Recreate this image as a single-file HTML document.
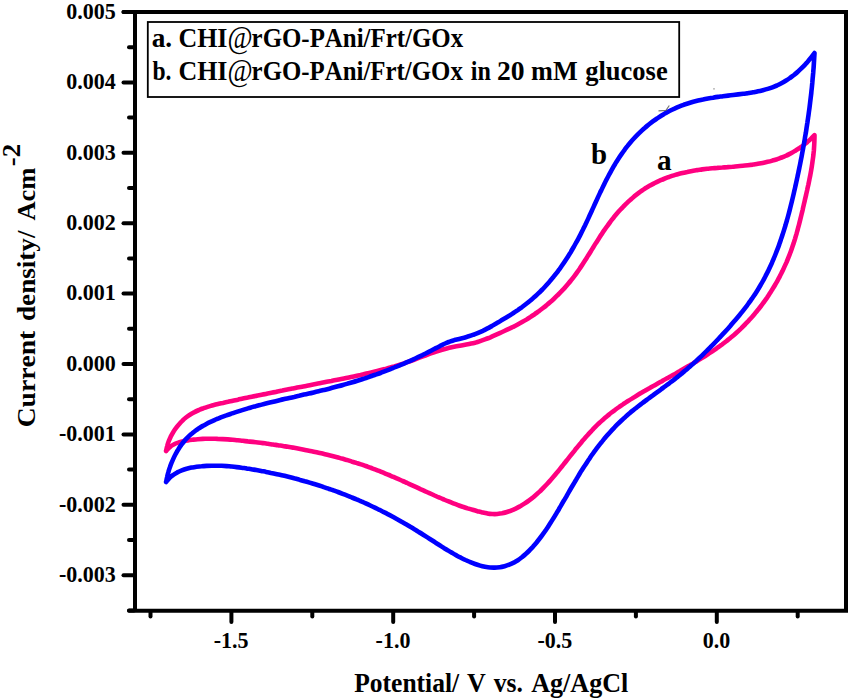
<!DOCTYPE html>
<html><head><meta charset="utf-8"><style>
html,body{margin:0;padding:0;background:#fff;}
svg{display:block;}
text{font-family:"Liberation Serif",serif;font-weight:bold;fill:#000;font-kerning:none;}
</style></head><body>
<svg width="850" height="700" viewBox="0 0 850 700">
<rect width="850" height="700" fill="#fff"/>
<g>
<g fill="none" stroke-linejoin="round" stroke-linecap="round" stroke-width="4.6">
<path stroke="#ff0080" d="M166.1 451.0C166.3 450.2 166.7 447.7 167.2 446.1C167.6 444.5 168.1 442.9 168.7 441.3C169.3 439.8 170.0 438.2 170.7 436.7C171.5 435.2 172.3 433.7 173.1 432.3C174.0 430.8 174.9 429.4 175.9 428.1C176.9 426.7 178.0 425.4 179.1 424.2C180.2 422.9 181.3 421.7 182.5 420.6C183.7 419.4 185.0 418.3 186.3 417.3C187.6 416.3 188.9 415.4 190.3 414.5C191.7 413.6 193.1 412.8 194.5 412.1C196.0 411.3 197.5 410.6 199.0 410.0C200.5 409.3 202.0 408.7 203.5 408.2C205.1 407.6 206.7 407.1 208.3 406.6C209.9 406.1 211.5 405.7 213.1 405.2C214.7 404.8 216.4 404.4 218.0 404.0C219.7 403.6 221.3 403.2 223.0 402.9C224.6 402.5 226.3 402.1 228.0 401.8C229.6 401.4 231.3 401.1 232.9 400.7C234.6 400.4 236.2 400.0 237.9 399.7C239.5 399.3 241.2 399.0 242.9 398.6C244.5 398.3 246.2 397.9 247.8 397.6C249.5 397.2 251.1 396.9 252.8 396.5C254.4 396.2 256.1 395.9 257.7 395.5C259.4 395.2 261.0 394.9 262.7 394.5C264.3 394.2 266.0 393.9 267.6 393.5C269.3 393.2 270.9 392.9 272.6 392.5C274.2 392.2 275.9 391.9 277.5 391.5C279.2 391.2 280.8 390.9 282.4 390.6C284.1 390.2 285.7 389.9 287.4 389.6C289.0 389.3 290.7 388.9 292.3 388.6C293.9 388.3 295.6 388.0 297.2 387.6C298.9 387.3 300.5 387.0 302.1 386.7C303.8 386.4 305.4 386.0 307.0 385.7C308.7 385.4 310.3 385.1 312.0 384.7C313.6 384.4 315.2 384.1 316.8 383.8C318.5 383.5 320.1 383.1 321.7 382.8C323.4 382.5 325.0 382.2 326.6 381.8C328.3 381.5 329.9 381.2 331.5 380.9C333.1 380.5 334.8 380.2 336.4 379.9C338.0 379.6 339.6 379.2 341.2 378.9C342.9 378.6 344.5 378.3 346.1 377.9C347.7 377.6 349.3 377.3 351.0 376.9C352.6 376.6 354.2 376.3 355.8 375.9C357.4 375.6 359.0 375.2 360.6 374.9C362.3 374.5 363.9 374.2 365.5 373.8C367.1 373.4 368.7 373.1 370.3 372.7C371.9 372.3 373.5 371.9 375.1 371.5C376.7 371.1 378.3 370.7 379.9 370.3C381.5 369.9 383.1 369.5 384.7 369.1C386.3 368.6 387.9 368.2 389.5 367.7C391.1 367.3 392.7 366.8 394.3 366.4C395.9 365.9 397.5 365.4 399.1 364.9C400.7 364.4 402.3 363.9 403.9 363.4C405.5 362.8 407.1 362.3 408.6 361.7C410.2 361.2 411.8 360.6 413.4 360.0C415.0 359.4 416.6 358.8 418.2 358.2C419.7 357.6 421.3 357.0 422.9 356.4C424.5 355.8 426.1 355.2 427.7 354.6C429.3 354.0 430.8 353.4 432.4 352.8C434.0 352.3 435.6 351.7 437.2 351.2C438.8 350.7 440.4 350.2 442.0 349.7C443.6 349.2 445.2 348.8 446.8 348.4C448.4 348.0 450.1 347.6 451.7 347.2C453.3 346.9 454.9 346.6 456.5 346.3C458.2 346.0 459.8 345.7 461.4 345.4C463.0 345.1 464.7 344.8 466.3 344.5C467.9 344.2 469.5 343.9 471.2 343.5C472.8 343.2 474.4 342.8 476.0 342.4C477.6 341.9 479.2 341.5 480.8 340.9C482.4 340.4 484.0 339.8 485.6 339.2C487.2 338.6 488.8 337.9 490.4 337.3C491.9 336.6 493.5 335.9 495.1 335.2C496.6 334.5 498.2 333.8 499.7 333.1C501.3 332.4 502.8 331.7 504.3 331.0C505.8 330.3 507.4 329.6 508.9 328.9C510.4 328.2 511.9 327.5 513.3 326.8C514.8 326.1 516.3 325.3 517.7 324.5C519.2 323.7 520.7 322.9 522.1 322.1C523.5 321.3 524.9 320.5 526.4 319.6C527.8 318.7 529.2 317.8 530.6 316.9C531.9 316.0 533.3 315.1 534.7 314.2C536.0 313.2 537.4 312.3 538.7 311.3C540.1 310.3 541.4 309.3 542.7 308.3C544.0 307.3 545.3 306.3 546.5 305.2C547.8 304.2 549.1 303.1 550.3 302.0C551.6 300.9 552.8 299.8 554.0 298.7C555.2 297.6 556.4 296.4 557.6 295.2C558.8 294.1 559.9 292.9 561.1 291.7C562.2 290.5 563.4 289.3 564.5 288.1C565.6 286.9 566.7 285.6 567.8 284.3C568.8 283.1 569.9 281.8 570.9 280.5C572.0 279.2 573.0 277.9 574.0 276.6C575.0 275.3 576.0 273.9 576.9 272.6C577.9 271.2 578.9 269.8 579.8 268.5C580.7 267.1 581.7 265.7 582.6 264.3C583.5 262.9 584.4 261.5 585.3 260.1C586.2 258.7 587.1 257.2 588.0 255.8C588.9 254.4 589.8 253.0 590.7 251.5C591.5 250.1 592.4 248.7 593.3 247.2C594.2 245.8 595.1 244.4 596.0 242.9C596.9 241.5 597.8 240.1 598.7 238.7C599.6 237.3 600.5 235.8 601.5 234.4C602.4 233.0 603.3 231.6 604.3 230.2C605.2 228.8 606.2 227.4 607.2 226.1C608.2 224.7 609.2 223.3 610.2 222.0C611.2 220.6 612.2 219.3 613.3 218.0C614.3 216.7 615.4 215.4 616.5 214.1C617.6 212.8 618.7 211.5 619.8 210.3C621.0 209.0 622.1 207.8 623.3 206.6C624.4 205.4 625.6 204.2 626.8 203.1C628.0 201.9 629.2 200.8 630.5 199.7C631.7 198.6 632.9 197.5 634.2 196.4C635.5 195.4 636.8 194.4 638.1 193.4C639.4 192.4 640.7 191.4 642.1 190.5C643.5 189.6 644.8 188.7 646.2 187.8C647.6 187.0 649.0 186.1 650.4 185.3C651.9 184.6 653.3 183.8 654.8 183.0C656.2 182.3 657.7 181.6 659.2 180.9C660.7 180.3 662.2 179.6 663.7 179.0C665.2 178.4 666.7 177.8 668.3 177.2C669.8 176.7 671.4 176.1 672.9 175.6C674.5 175.1 676.1 174.7 677.7 174.2C679.3 173.8 680.9 173.4 682.5 173.0C684.1 172.6 685.7 172.2 687.3 171.9C689.0 171.5 690.6 171.2 692.3 170.9C693.9 170.6 695.6 170.4 697.2 170.1C698.9 169.9 700.5 169.6 702.2 169.4C703.9 169.2 705.6 169.0 707.2 168.8C708.9 168.6 710.6 168.5 712.3 168.3C714.0 168.2 715.7 168.0 717.4 167.9C719.0 167.7 720.7 167.6 722.4 167.5C724.1 167.3 725.8 167.2 727.5 167.1C729.2 166.9 730.9 166.8 732.6 166.7C734.3 166.5 736.0 166.4 737.7 166.2C739.4 166.1 741.1 165.9 742.8 165.7C744.4 165.6 746.1 165.4 747.8 165.2C749.5 165.0 751.2 164.8 752.8 164.6C754.5 164.3 756.2 164.1 757.8 163.8C759.5 163.5 761.1 163.2 762.7 162.9C764.4 162.6 766.0 162.2 767.6 161.8C769.2 161.5 770.8 161.1 772.4 160.6C774.0 160.2 775.6 159.7 777.1 159.2C778.7 158.6 780.2 158.1 781.8 157.5C783.3 156.9 784.8 156.2 786.3 155.6C787.8 154.9 789.3 154.1 790.7 153.4C792.2 152.6 793.6 151.8 795.0 150.9C796.4 150.1 797.8 149.2 799.2 148.3C800.6 147.3 801.9 146.3 803.3 145.3C804.6 144.3 805.9 143.3 807.2 142.2C808.4 141.1 809.7 140.0 810.9 138.8C812.1 137.6 813.9 135.8 814.5 135.2C814.5 136.0 814.5 138.5 814.4 140.2C814.4 141.8 814.3 143.5 814.2 145.2C814.1 146.8 814.0 148.5 813.9 150.2C813.7 151.8 813.5 153.5 813.4 155.1C813.2 156.8 813.0 158.5 812.7 160.1C812.5 161.8 812.3 163.5 812.0 165.1C811.8 166.8 811.5 168.4 811.2 170.1C810.9 171.8 810.6 173.4 810.3 175.1C810.0 176.7 809.6 178.4 809.3 180.1C809.0 181.7 808.6 183.4 808.3 185.0C807.9 186.7 807.5 188.3 807.2 190.0C806.8 191.6 806.4 193.3 806.1 194.9C805.7 196.6 805.3 198.2 804.9 199.9C804.6 201.5 804.2 203.1 803.8 204.8C803.4 206.4 803.0 208.0 802.7 209.7C802.3 211.3 801.9 212.9 801.5 214.5C801.1 216.2 800.7 217.8 800.3 219.4C799.9 221.0 799.5 222.6 799.1 224.3C798.7 225.9 798.2 227.5 797.8 229.1C797.4 230.7 796.9 232.3 796.5 233.9C796.0 235.5 795.5 237.1 795.1 238.6C794.6 240.2 794.1 241.8 793.6 243.4C793.0 245.0 792.5 246.5 792.0 248.1C791.4 249.7 790.9 251.2 790.3 252.8C789.7 254.3 789.1 255.9 788.5 257.4C787.9 259.0 787.2 260.5 786.6 262.1C785.9 263.6 785.2 265.1 784.5 266.6C783.8 268.2 783.1 269.7 782.4 271.2C781.6 272.7 780.9 274.2 780.1 275.7C779.4 277.2 778.6 278.6 777.8 280.1C777.0 281.6 776.1 283.0 775.3 284.5C774.5 285.9 773.6 287.4 772.7 288.8C771.8 290.2 771.0 291.7 770.0 293.1C769.1 294.5 768.2 295.9 767.3 297.3C766.3 298.7 765.4 300.0 764.4 301.4C763.4 302.8 762.4 304.1 761.4 305.5C760.4 306.8 759.4 308.1 758.3 309.4C757.3 310.8 756.2 312.1 755.1 313.3C754.1 314.6 753.0 315.9 751.8 317.2C750.7 318.4 749.6 319.7 748.5 320.9C747.3 322.1 746.2 323.3 745.0 324.5C743.8 325.7 742.6 326.9 741.4 328.1C740.2 329.2 739.0 330.4 737.8 331.5C736.5 332.6 735.3 333.8 734.0 334.9C732.8 335.9 731.5 337.0 730.2 338.1C728.9 339.1 727.6 340.2 726.3 341.2C724.9 342.3 723.6 343.3 722.3 344.3C720.9 345.3 719.6 346.3 718.2 347.2C716.8 348.2 715.5 349.2 714.1 350.1C712.7 351.1 711.3 352.0 709.9 352.9C708.5 353.8 707.1 354.8 705.7 355.7C704.3 356.6 702.8 357.5 701.4 358.3C700.0 359.2 698.6 360.1 697.1 361.0C695.7 361.8 694.3 362.7 692.8 363.6C691.4 364.4 690.0 365.3 688.5 366.1C687.1 366.9 685.6 367.8 684.2 368.6C682.8 369.4 681.3 370.3 679.9 371.1C678.4 371.9 677.0 372.7 675.5 373.6C674.1 374.4 672.6 375.2 671.2 376.0C669.7 376.8 668.3 377.6 666.8 378.4C665.3 379.3 663.9 380.1 662.4 380.9C661.0 381.7 659.5 382.5 658.1 383.3C656.6 384.2 655.1 385.0 653.7 385.8C652.2 386.6 650.7 387.5 649.3 388.3C647.8 389.1 646.4 389.9 644.9 390.8C643.4 391.6 642.0 392.5 640.5 393.3C639.1 394.2 637.6 395.1 636.2 395.9C634.7 396.8 633.3 397.7 631.9 398.6C630.4 399.5 629.0 400.4 627.6 401.3C626.2 402.2 624.8 403.1 623.4 404.0C622.0 405.0 620.6 405.9 619.3 406.9C617.9 407.8 616.5 408.8 615.2 409.8C613.8 410.8 612.5 411.8 611.2 412.8C609.9 413.8 608.6 414.9 607.3 415.9C606.0 417.0 604.8 418.1 603.5 419.2C602.3 420.2 601.1 421.4 599.8 422.5C598.6 423.6 597.5 424.8 596.3 425.9C595.1 427.1 594.0 428.3 592.8 429.5C591.7 430.7 590.5 431.9 589.4 433.1C588.3 434.3 587.2 435.6 586.1 436.8C585.0 438.1 583.9 439.3 582.8 440.6C581.7 441.9 580.7 443.2 579.6 444.4C578.5 445.7 577.5 447.0 576.4 448.3C575.3 449.6 574.3 451.0 573.2 452.3C572.2 453.6 571.1 454.9 570.1 456.2C569.0 457.6 568.0 458.9 566.9 460.2C565.9 461.6 564.8 462.9 563.8 464.2C562.7 465.6 561.6 466.9 560.6 468.2C559.5 469.6 558.4 470.9 557.3 472.2C556.3 473.5 555.2 474.8 554.1 476.1C553.0 477.4 551.9 478.7 550.7 480.0C549.6 481.3 548.5 482.5 547.3 483.8C546.2 485.0 545.0 486.2 543.8 487.4C542.7 488.6 541.5 489.8 540.3 491.0C539.0 492.1 537.8 493.2 536.6 494.3C535.3 495.4 534.1 496.5 532.8 497.6C531.5 498.6 530.2 499.6 528.8 500.6C527.5 501.6 526.2 502.5 524.8 503.4C523.4 504.3 522.0 505.2 520.6 506.0C519.1 506.8 517.7 507.6 516.2 508.3C514.7 509.0 513.2 509.7 511.7 510.3C510.1 511.0 508.5 511.5 507.0 512.0C505.4 512.5 503.8 512.9 502.1 513.3C500.5 513.6 498.9 513.8 497.2 514.0C495.6 514.1 493.9 514.1 492.3 514.0C490.6 513.9 488.9 513.7 487.3 513.4C485.6 513.2 484.0 512.8 482.3 512.4C480.7 512.1 479.0 511.6 477.4 511.2C475.7 510.8 474.1 510.3 472.5 509.8C470.8 509.4 469.2 508.9 467.6 508.4C466.0 507.8 464.4 507.3 462.8 506.8C461.2 506.2 459.6 505.7 458.0 505.1C456.4 504.5 454.9 503.9 453.3 503.3C451.7 502.7 450.1 502.1 448.6 501.4C447.0 500.8 445.5 500.2 443.9 499.5C442.4 498.9 440.8 498.2 439.3 497.5C437.7 496.9 436.2 496.2 434.6 495.5C433.1 494.8 431.6 494.1 430.0 493.4C428.5 492.7 427.0 492.0 425.4 491.3C423.9 490.6 422.4 489.9 420.9 489.3C419.3 488.6 417.8 487.9 416.3 487.2C414.8 486.5 413.2 485.8 411.7 485.1C410.2 484.4 408.7 483.7 407.2 483.0C405.6 482.3 404.1 481.6 402.6 481.0C401.1 480.3 399.6 479.6 398.0 478.9C396.5 478.3 395.0 477.6 393.5 476.9C391.9 476.3 390.4 475.6 388.9 475.0C387.4 474.4 385.8 473.7 384.3 473.1C382.8 472.5 381.2 471.8 379.7 471.2C378.1 470.6 376.6 470.0 375.0 469.4C373.5 468.8 371.9 468.3 370.4 467.7C368.8 467.1 367.3 466.6 365.7 466.0C364.1 465.5 362.6 464.9 361.0 464.4C359.4 463.9 357.8 463.4 356.3 462.9C354.7 462.3 353.1 461.8 351.5 461.4C349.9 460.9 348.3 460.4 346.7 459.9C345.1 459.5 343.5 459.0 341.9 458.6C340.3 458.1 338.7 457.7 337.1 457.2C335.5 456.8 333.9 456.4 332.3 456.0C330.6 455.6 329.0 455.2 327.4 454.8C325.8 454.4 324.1 454.0 322.5 453.6C320.9 453.2 319.3 452.9 317.6 452.5C316.0 452.1 314.3 451.8 312.7 451.4C311.1 451.1 309.4 450.7 307.8 450.4C306.1 450.1 304.5 449.8 302.8 449.4C301.2 449.1 299.5 448.8 297.9 448.5C296.2 448.2 294.6 447.9 292.9 447.6C291.3 447.4 289.6 447.1 287.9 446.8C286.3 446.5 284.6 446.3 282.9 446.0C281.3 445.7 279.6 445.5 277.9 445.2C276.3 445.0 274.6 444.7 272.9 444.5C271.3 444.3 269.6 444.0 267.9 443.8C266.3 443.6 264.6 443.4 262.9 443.1C261.2 442.9 259.6 442.7 257.9 442.5C256.2 442.3 254.5 442.1 252.9 441.9C251.2 441.7 249.5 441.5 247.8 441.4C246.1 441.2 244.5 441.0 242.8 440.8C241.1 440.6 239.4 440.5 237.7 440.3C236.1 440.1 234.4 440.0 232.7 439.8C231.0 439.7 229.4 439.5 227.7 439.4C226.0 439.3 224.3 439.2 222.7 439.1C221.0 439.0 219.3 438.9 217.6 438.9C216.0 438.8 214.3 438.8 212.6 438.7C211.0 438.7 209.3 438.7 207.6 438.7C206.0 438.8 204.3 438.8 202.7 438.9C201.0 439.0 199.3 439.1 197.7 439.2C196.0 439.3 194.4 439.5 192.7 439.7C191.1 439.9 189.4 440.1 187.8 440.4C186.2 440.6 184.5 440.9 182.9 441.3C181.3 441.6 179.7 442.0 178.2 442.6C176.7 443.1 175.1 443.7 173.7 444.5C172.3 445.2 170.9 446.1 169.7 447.2C168.4 448.2 166.7 450.4 166.1 451.0"/>
<path stroke="#0000ff" d="M166.1 482.0C166.3 481.2 166.7 478.8 167.1 477.2C167.4 475.6 167.8 474.0 168.3 472.4C168.7 470.7 169.2 469.1 169.8 467.5C170.3 465.9 170.9 464.3 171.5 462.8C172.2 461.2 172.9 459.6 173.6 458.1C174.3 456.6 175.1 455.0 175.9 453.5C176.7 452.1 177.5 450.6 178.4 449.2C179.3 447.7 180.2 446.3 181.2 445.0C182.2 443.6 183.2 442.3 184.3 441.1C185.4 439.8 186.5 438.6 187.7 437.4C188.8 436.3 190.0 435.2 191.3 434.1C192.5 433.0 193.8 432.0 195.1 431.0C196.4 430.0 197.8 429.1 199.1 428.2C200.5 427.3 201.9 426.4 203.4 425.6C204.8 424.8 206.3 424.0 207.7 423.2C209.2 422.5 210.7 421.8 212.2 421.1C213.8 420.3 215.3 419.7 216.8 419.0C218.4 418.4 220.0 417.7 221.5 417.1C223.1 416.5 224.7 415.9 226.3 415.4C227.9 414.8 229.5 414.2 231.1 413.7C232.7 413.1 234.3 412.6 235.9 412.1C237.5 411.6 239.1 411.1 240.7 410.6C242.3 410.1 243.9 409.6 245.5 409.1C247.1 408.6 248.7 408.2 250.3 407.7C251.9 407.2 253.6 406.8 255.2 406.4C256.8 405.9 258.4 405.5 260.0 405.1C261.6 404.6 263.3 404.2 264.9 403.8C266.5 403.4 268.1 403.0 269.8 402.6C271.4 402.2 273.0 401.8 274.6 401.4C276.3 401.0 277.9 400.6 279.5 400.2C281.1 399.9 282.8 399.5 284.4 399.1C286.0 398.7 287.6 398.4 289.3 398.0C290.9 397.6 292.5 397.2 294.2 396.9C295.8 396.5 297.4 396.1 299.0 395.8C300.7 395.4 302.3 395.0 303.9 394.6C305.6 394.3 307.2 393.9 308.8 393.5C310.4 393.2 312.1 392.8 313.7 392.4C315.3 392.0 317.0 391.6 318.6 391.2C320.2 390.9 321.8 390.5 323.5 390.1C325.1 389.7 326.7 389.3 328.3 388.9C329.9 388.5 331.6 388.0 333.2 387.6C334.8 387.2 336.4 386.8 338.0 386.3C339.7 385.9 341.3 385.5 342.9 385.0C344.5 384.6 346.1 384.1 347.7 383.6C349.3 383.2 350.9 382.7 352.5 382.2C354.2 381.7 355.8 381.2 357.4 380.7C359.0 380.2 360.6 379.7 362.2 379.2C363.7 378.7 365.3 378.2 366.9 377.7C368.5 377.1 370.1 376.6 371.7 376.0C373.3 375.5 374.9 374.9 376.4 374.4C378.0 373.8 379.6 373.2 381.1 372.7C382.7 372.1 384.3 371.5 385.8 370.9C387.4 370.3 389.0 369.7 390.5 369.1C392.1 368.5 393.6 367.8 395.2 367.2C396.7 366.6 398.2 366.0 399.8 365.3C401.3 364.7 402.9 364.0 404.4 363.4C405.9 362.7 407.4 362.0 408.9 361.4C410.5 360.7 412.0 360.0 413.5 359.3C415.0 358.6 416.5 357.9 418.0 357.2C419.5 356.5 421.0 355.8 422.5 355.1C423.9 354.3 425.4 353.6 426.9 352.8C428.4 352.1 429.9 351.3 431.4 350.5C432.9 349.7 434.4 348.9 435.9 348.1C437.5 347.3 439.0 346.5 440.5 345.7C442.0 345.0 443.5 344.2 445.1 343.5C446.6 342.8 448.2 342.2 449.7 341.6C451.3 341.1 452.9 340.6 454.4 340.1C456.0 339.7 457.6 339.3 459.2 338.9C460.8 338.5 462.4 338.1 464.0 337.7C465.5 337.2 467.1 336.8 468.7 336.3C470.3 335.8 471.9 335.3 473.5 334.7C475.1 334.2 476.6 333.6 478.2 332.9C479.8 332.2 481.3 331.5 482.9 330.8C484.4 330.0 486.0 329.2 487.5 328.4C489.1 327.6 490.6 326.7 492.1 325.9C493.6 325.0 495.1 324.1 496.6 323.2C498.1 322.3 499.6 321.5 501.0 320.6C502.5 319.7 503.9 318.9 505.4 318.0C506.8 317.2 508.2 316.3 509.6 315.5C511.0 314.6 512.4 313.7 513.8 312.8C515.2 311.9 516.5 311.0 517.9 310.1C519.2 309.2 520.5 308.2 521.8 307.3C523.1 306.3 524.4 305.3 525.7 304.3C527.0 303.3 528.3 302.3 529.5 301.3C530.8 300.3 532.0 299.2 533.2 298.1C534.4 297.1 535.7 296.0 536.8 294.9C538.0 293.8 539.2 292.6 540.4 291.5C541.5 290.3 542.7 289.2 543.8 288.0C544.9 286.8 546.1 285.6 547.2 284.3C548.3 283.1 549.3 281.9 550.4 280.6C551.5 279.3 552.5 278.0 553.6 276.7C554.6 275.4 555.7 274.1 556.7 272.8C557.7 271.5 558.7 270.1 559.7 268.8C560.7 267.4 561.6 266.0 562.6 264.6C563.6 263.3 564.5 261.9 565.4 260.5C566.4 259.0 567.3 257.6 568.2 256.2C569.1 254.8 570.0 253.3 570.9 251.9C571.7 250.4 572.6 248.9 573.4 247.5C574.3 246.0 575.1 244.5 575.9 243.0C576.8 241.6 577.6 240.1 578.4 238.6C579.2 237.1 579.9 235.6 580.7 234.1C581.5 232.6 582.2 231.0 583.0 229.5C583.7 228.0 584.5 226.5 585.2 225.0C585.9 223.4 586.7 221.9 587.4 220.4C588.1 218.9 588.8 217.3 589.5 215.8C590.2 214.3 590.9 212.7 591.6 211.2C592.3 209.7 593.0 208.1 593.7 206.6C594.4 205.1 595.1 203.5 595.8 202.0C596.5 200.5 597.2 199.0 597.9 197.4C598.6 195.9 599.3 194.4 600.0 192.9C600.7 191.4 601.5 189.9 602.2 188.4C602.9 186.9 603.6 185.4 604.4 183.9C605.1 182.4 605.8 180.9 606.6 179.4C607.4 177.9 608.1 176.5 608.9 175.0C609.7 173.5 610.5 172.1 611.3 170.6C612.1 169.2 612.9 167.8 613.7 166.3C614.6 164.9 615.4 163.5 616.3 162.1C617.1 160.7 618.0 159.3 618.9 157.9C619.8 156.5 620.7 155.2 621.7 153.8C622.6 152.5 623.6 151.1 624.6 149.8C625.6 148.5 626.6 147.1 627.6 145.9C628.6 144.6 629.7 143.3 630.8 142.0C631.9 140.7 633.0 139.5 634.1 138.3C635.2 137.0 636.4 135.8 637.6 134.6C638.8 133.4 640.0 132.3 641.2 131.1C642.4 130.0 643.7 128.8 645.0 127.7C646.2 126.6 647.5 125.6 648.8 124.5C650.2 123.4 651.5 122.4 652.8 121.4C654.2 120.4 655.6 119.4 657.0 118.5C658.4 117.5 659.8 116.6 661.2 115.7C662.6 114.8 664.1 114.0 665.5 113.1C667.0 112.3 668.5 111.5 669.9 110.8C671.4 110.0 672.9 109.3 674.5 108.6C676.0 107.9 677.5 107.2 679.0 106.6C680.6 106.0 682.1 105.4 683.7 104.8C685.3 104.3 686.9 103.8 688.5 103.3C690.0 102.8 691.6 102.3 693.3 101.8C694.9 101.4 696.5 101.0 698.1 100.6C699.7 100.2 701.4 99.8 703.0 99.5C704.7 99.1 706.3 98.8 708.0 98.5C709.6 98.2 711.3 97.9 713.0 97.7C714.6 97.4 716.3 97.1 718.0 96.9C719.7 96.7 721.3 96.4 723.0 96.2C724.7 96.0 726.4 95.8 728.1 95.6C729.8 95.4 731.5 95.2 733.2 95.0C734.8 94.8 736.5 94.6 738.2 94.4C739.9 94.2 741.6 94.0 743.2 93.8C744.9 93.6 746.6 93.3 748.2 93.1C749.9 92.8 751.6 92.6 753.2 92.3C754.8 92.0 756.5 91.7 758.1 91.3C759.7 91.0 761.3 90.6 762.9 90.2C764.5 89.8 766.1 89.4 767.7 88.9C769.3 88.4 770.8 87.9 772.4 87.3C773.9 86.7 775.4 86.1 776.9 85.5C778.4 84.8 779.9 84.1 781.4 83.3C782.9 82.5 784.3 81.7 785.7 80.8C787.1 79.9 788.5 79.0 789.9 78.0C791.3 77.1 792.6 76.0 794.0 75.0C795.3 73.9 796.6 72.8 797.8 71.7C799.1 70.6 800.4 69.4 801.6 68.2C802.8 67.0 804.0 65.8 805.1 64.6C806.2 63.3 807.4 62.1 808.4 60.8C809.5 59.5 810.6 58.2 811.6 56.9C812.6 55.6 814.0 53.7 814.5 53.0C814.5 53.8 814.3 56.3 814.2 58.0C814.1 59.7 814.0 61.3 813.9 63.0C813.8 64.6 813.7 66.3 813.6 68.0C813.4 69.6 813.3 71.3 813.2 73.0C813.0 74.6 812.9 76.3 812.7 77.9C812.6 79.6 812.4 81.3 812.3 82.9C812.1 84.6 812.0 86.2 811.8 87.9C811.6 89.5 811.4 91.2 811.3 92.9C811.1 94.5 810.9 96.2 810.7 97.8C810.5 99.5 810.3 101.1 810.1 102.8C809.9 104.4 809.7 106.1 809.5 107.8C809.3 109.4 809.0 111.1 808.8 112.7C808.6 114.4 808.4 116.0 808.1 117.7C807.9 119.3 807.6 121.0 807.4 122.6C807.1 124.3 806.9 125.9 806.6 127.6C806.4 129.2 806.1 130.9 805.9 132.5C805.6 134.1 805.3 135.8 805.0 137.4C804.8 139.1 804.5 140.7 804.2 142.4C803.9 144.0 803.6 145.7 803.3 147.3C803.0 148.9 802.7 150.6 802.4 152.2C802.1 153.9 801.8 155.5 801.5 157.1C801.2 158.8 800.8 160.4 800.5 162.1C800.2 163.7 799.9 165.3 799.5 167.0C799.2 168.6 798.9 170.2 798.5 171.9C798.2 173.5 797.8 175.1 797.5 176.8C797.1 178.4 796.8 180.0 796.4 181.7C796.1 183.3 795.7 184.9 795.3 186.6C795.0 188.2 794.6 189.8 794.2 191.4C793.9 193.1 793.5 194.7 793.1 196.3C792.7 197.9 792.3 199.6 791.9 201.2C791.5 202.8 791.1 204.4 790.7 206.0C790.3 207.7 789.9 209.3 789.5 210.9C789.1 212.5 788.6 214.1 788.2 215.7C787.8 217.3 787.3 218.9 786.9 220.5C786.4 222.1 785.9 223.7 785.5 225.3C785.0 226.9 784.5 228.5 784.0 230.1C783.5 231.7 783.0 233.3 782.5 234.8C782.0 236.4 781.5 238.0 780.9 239.5C780.4 241.1 779.9 242.7 779.3 244.2C778.8 245.8 778.2 247.4 777.6 248.9C777.0 250.4 776.4 252.0 775.8 253.5C775.2 255.1 774.6 256.6 773.9 258.1C773.3 259.6 772.6 261.2 772.0 262.7C771.3 264.2 770.6 265.7 769.9 267.2C769.2 268.7 768.5 270.2 767.8 271.7C767.0 273.2 766.3 274.6 765.5 276.1C764.8 277.6 764.0 279.0 763.2 280.5C762.4 282.0 761.6 283.4 760.7 284.8C759.9 286.3 759.0 287.7 758.2 289.1C757.3 290.6 756.4 292.0 755.5 293.4C754.6 294.8 753.6 296.2 752.7 297.6C751.7 298.9 750.8 300.3 749.8 301.7C748.8 303.1 747.8 304.4 746.8 305.8C745.8 307.1 744.7 308.5 743.7 309.8C742.7 311.1 741.6 312.5 740.5 313.8C739.5 315.1 738.4 316.4 737.3 317.7C736.2 319.0 735.1 320.3 734.0 321.6C732.9 322.9 731.8 324.2 730.7 325.4C729.6 326.7 728.5 328.0 727.4 329.2C726.2 330.5 725.1 331.7 724.0 332.9C722.8 334.2 721.7 335.4 720.5 336.6C719.4 337.8 718.3 339.1 717.1 340.3C716.0 341.5 714.8 342.7 713.7 343.8C712.5 345.0 711.3 346.2 710.2 347.4C709.0 348.6 707.9 349.7 706.7 350.9C705.5 352.0 704.3 353.2 703.2 354.3C702.0 355.5 700.8 356.6 699.6 357.7C698.4 358.8 697.2 360.0 696.0 361.1C694.8 362.2 693.6 363.3 692.3 364.4C691.1 365.5 689.9 366.5 688.7 367.6C687.4 368.7 686.2 369.8 684.9 370.8C683.7 371.9 682.4 372.9 681.1 374.0C679.9 375.0 678.6 376.1 677.3 377.1C676.0 378.1 674.7 379.2 673.4 380.2C672.1 381.2 670.7 382.2 669.4 383.2C668.1 384.2 666.7 385.2 665.4 386.2C664.0 387.2 662.7 388.2 661.3 389.2C660.0 390.2 658.6 391.2 657.3 392.1C655.9 393.1 654.5 394.1 653.2 395.1C651.8 396.1 650.4 397.1 649.1 398.1C647.7 399.1 646.4 400.1 645.0 401.1C643.7 402.1 642.3 403.1 641.0 404.1C639.6 405.2 638.3 406.2 637.0 407.2C635.7 408.3 634.3 409.3 633.0 410.4C631.7 411.4 630.4 412.5 629.2 413.6C627.9 414.7 626.6 415.8 625.4 416.9C624.1 418.0 622.9 419.1 621.7 420.3C620.5 421.4 619.3 422.6 618.1 423.7C616.9 424.9 615.7 426.1 614.6 427.3C613.4 428.5 612.3 429.7 611.2 430.9C610.1 432.2 609.0 433.4 607.9 434.6C606.8 435.9 605.7 437.2 604.6 438.4C603.6 439.7 602.5 441.0 601.5 442.3C600.4 443.6 599.4 444.9 598.4 446.2C597.4 447.5 596.4 448.8 595.4 450.2C594.4 451.5 593.5 452.8 592.5 454.2C591.5 455.5 590.6 456.9 589.7 458.3C588.7 459.6 587.8 461.0 586.9 462.4C586.0 463.8 585.1 465.2 584.2 466.5C583.3 467.9 582.4 469.3 581.5 470.7C580.7 472.1 579.8 473.5 578.9 475.0C578.1 476.4 577.2 477.8 576.4 479.2C575.5 480.6 574.7 482.0 573.9 483.5C573.0 484.9 572.2 486.3 571.3 487.8C570.5 489.2 569.7 490.6 568.8 492.1C568.0 493.5 567.2 494.9 566.4 496.4C565.5 497.8 564.7 499.3 563.8 500.7C563.0 502.2 562.2 503.6 561.3 505.0C560.5 506.5 559.6 507.9 558.8 509.4C557.9 510.8 557.1 512.2 556.2 513.7C555.3 515.1 554.5 516.6 553.6 518.0C552.7 519.4 551.8 520.9 550.9 522.3C550.0 523.7 549.1 525.1 548.2 526.6C547.2 528.0 546.3 529.4 545.3 530.8C544.4 532.2 543.4 533.5 542.4 534.9C541.4 536.3 540.4 537.6 539.3 539.0C538.3 540.3 537.3 541.6 536.2 542.9C535.1 544.2 534.0 545.5 532.9 546.8C531.7 548.0 530.6 549.3 529.4 550.5C528.2 551.7 527.0 552.9 525.7 554.0C524.5 555.1 523.2 556.2 521.9 557.3C520.6 558.3 519.3 559.3 517.9 560.2C516.5 561.1 515.1 561.9 513.7 562.7C512.2 563.4 510.7 564.1 509.2 564.7C507.7 565.3 506.1 565.8 504.6 566.2C503.0 566.6 501.4 567.0 499.8 567.2C498.2 567.4 496.6 567.6 494.9 567.6C493.3 567.7 491.7 567.6 490.0 567.5C488.4 567.4 486.7 567.1 485.0 566.8C483.4 566.5 481.7 566.1 480.1 565.6C478.4 565.1 476.8 564.6 475.1 564.0C473.5 563.4 471.9 562.8 470.3 562.1C468.7 561.5 467.1 560.7 465.5 560.0C464.0 559.3 462.4 558.5 460.9 557.7C459.4 557.0 457.9 556.2 456.5 555.4C455.0 554.6 453.6 553.8 452.2 552.9C450.7 552.1 449.3 551.3 447.9 550.4C446.6 549.6 445.2 548.7 443.8 547.9C442.4 547.0 441.1 546.2 439.7 545.3C438.3 544.4 437.0 543.6 435.6 542.7C434.3 541.8 432.9 540.9 431.5 540.0C430.1 539.1 428.8 538.3 427.4 537.4C426.0 536.5 424.6 535.6 423.2 534.7C421.8 533.8 420.4 532.9 418.9 532.1C417.5 531.2 416.1 530.3 414.7 529.4C413.2 528.5 411.8 527.7 410.3 526.8C408.9 525.9 407.5 525.1 406.0 524.2C404.5 523.4 403.1 522.5 401.6 521.7C400.2 520.8 398.7 520.0 397.2 519.2C395.7 518.4 394.3 517.6 392.8 516.8C391.3 516.0 389.8 515.2 388.3 514.4C386.9 513.6 385.4 512.8 383.9 512.1C382.4 511.3 380.9 510.6 379.4 509.8C377.9 509.1 376.4 508.3 374.9 507.6C373.3 506.9 371.8 506.2 370.3 505.5C368.8 504.8 367.3 504.1 365.8 503.4C364.2 502.7 362.7 502.0 361.2 501.4C359.6 500.7 358.1 500.0 356.6 499.4C355.0 498.7 353.5 498.1 351.9 497.5C350.4 496.8 348.9 496.2 347.3 495.6C345.8 495.0 344.2 494.4 342.7 493.8C341.1 493.2 339.5 492.6 338.0 492.0C336.4 491.4 334.9 490.9 333.3 490.3C331.7 489.8 330.1 489.2 328.6 488.7C327.0 488.1 325.4 487.6 323.8 487.1C322.3 486.5 320.7 486.0 319.1 485.5C317.5 485.0 315.9 484.5 314.3 484.0C312.8 483.5 311.2 483.1 309.6 482.6C308.0 482.1 306.4 481.6 304.8 481.2C303.2 480.7 301.6 480.3 300.0 479.9C298.4 479.4 296.8 479.0 295.2 478.6C293.6 478.1 292.0 477.7 290.4 477.3C288.7 476.9 287.1 476.5 285.5 476.1C283.9 475.7 282.3 475.4 280.7 475.0C279.0 474.6 277.4 474.3 275.8 473.9C274.2 473.5 272.6 473.2 270.9 472.9C269.3 472.5 267.7 472.2 266.1 471.9C264.4 471.6 262.8 471.2 261.2 470.9C259.5 470.6 257.9 470.3 256.3 470.0C254.6 469.7 253.0 469.5 251.4 469.2C249.7 468.9 248.1 468.7 246.4 468.4C244.8 468.2 243.2 467.9 241.5 467.7C239.9 467.5 238.2 467.3 236.6 467.1C234.9 466.9 233.3 466.7 231.6 466.5C230.0 466.4 228.3 466.2 226.7 466.1C225.0 466.0 223.3 465.9 221.7 465.8C220.0 465.8 218.3 465.7 216.7 465.7C215.0 465.7 213.3 465.7 211.7 465.7C210.0 465.7 208.3 465.8 206.6 465.9C204.9 466.0 203.3 466.1 201.6 466.3C199.9 466.4 198.2 466.6 196.5 466.8C194.8 467.1 193.1 467.3 191.5 467.6C189.8 468.0 188.2 468.4 186.6 468.8C184.9 469.3 183.4 469.8 181.8 470.4C180.3 471.0 178.8 471.6 177.3 472.4C175.9 473.2 174.5 474.0 173.2 475.0C171.8 475.9 170.6 477.0 169.4 478.1C168.2 479.3 166.6 481.4 166.1 482.0"/>
</g>
<g stroke="#000" stroke-width="4" fill="none" stroke-linecap="round">
<path d="M123.5 12H846V610.7H129" stroke-linejoin="miter" stroke-linecap="round"/>
<path d="M135 12V610.7" stroke-linecap="butt"/>
<line x1="123.5" y1="12.0" x2="134" y2="12.0"/><line x1="123.5" y1="82.4" x2="134" y2="82.4"/><line x1="123.5" y1="152.8" x2="134" y2="152.8"/><line x1="123.5" y1="223.2" x2="134" y2="223.2"/><line x1="123.5" y1="293.6" x2="134" y2="293.6"/><line x1="123.5" y1="364.0" x2="134" y2="364.0"/><line x1="123.5" y1="434.4" x2="134" y2="434.4"/><line x1="123.5" y1="504.8" x2="134" y2="504.8"/><line x1="123.5" y1="575.2" x2="134" y2="575.2"/><line x1="129" y1="47.2" x2="134" y2="47.2"/><line x1="129" y1="117.6" x2="134" y2="117.6"/><line x1="129" y1="188.0" x2="134" y2="188.0"/><line x1="129" y1="258.4" x2="134" y2="258.4"/><line x1="129" y1="328.8" x2="134" y2="328.8"/><line x1="129" y1="399.2" x2="134" y2="399.2"/><line x1="129" y1="469.6" x2="134" y2="469.6"/><line x1="129" y1="540.0" x2="134" y2="540.0"/><line x1="129" y1="610.4" x2="134" y2="610.4"/><line x1="231.4" y1="612" x2="231.4" y2="622"/><line x1="393.2" y1="612" x2="393.2" y2="622"/><line x1="555.0" y1="612" x2="555.0" y2="622"/><line x1="716.8" y1="612" x2="716.8" y2="622"/><line x1="150.5" y1="612" x2="150.5" y2="616.5"/><line x1="312.3" y1="612" x2="312.3" y2="616.5"/><line x1="474.1" y1="612" x2="474.1" y2="616.5"/><line x1="635.9" y1="612" x2="635.9" y2="616.5"/><line x1="797.7" y1="612" x2="797.7" y2="616.5"/>
</g>
<g font-size="22"><text transform="translate(115.8,18.7) scale(1,1.09)" text-anchor="end">0.005</text><text transform="translate(115.8,89.1) scale(1,1.09)" text-anchor="end">0.004</text><text transform="translate(115.8,159.5) scale(1,1.09)" text-anchor="end">0.003</text><text transform="translate(115.8,229.9) scale(1,1.09)" text-anchor="end">0.002</text><text transform="translate(115.8,300.3) scale(1,1.09)" text-anchor="end">0.001</text><text transform="translate(115.8,370.7) scale(1,1.09)" text-anchor="end">0.000</text><text transform="translate(115.8,441.1) scale(1,1.09)" text-anchor="end">-0.001</text><text transform="translate(115.8,511.5) scale(1,1.09)" text-anchor="end">-0.002</text><text transform="translate(115.8,581.9) scale(1,1.09)" text-anchor="end">-0.003</text><text transform="translate(231.2,647.9) scale(1,1.09)" text-anchor="middle">-1.5</text><text transform="translate(393.0,647.9) scale(1,1.09)" text-anchor="middle">-1.0</text><text transform="translate(554.8,647.9) scale(1,1.09)" text-anchor="middle">-0.5</text><text transform="translate(716.6,647.9) scale(1,1.09)" text-anchor="middle">0.0</text></g>
<rect x="147.8" y="22" width="531.4" height="75" fill="#fff" stroke="#000" stroke-width="1.8"/>
<path d="M658.5 110.8L666 110.3L669.3 105.5" fill="none" stroke="#555" stroke-width="1.2" opacity="0.8"/>
<circle cx="714" cy="88.8" r="0.9" fill="#aaa"/>
<text transform="translate(151.73,46.50) scale(1.0706,1.0900)" font-size="25.5">a.</text>
<text transform="translate(178.48,46.50) scale(1.0170,1.0900)" font-size="25.5">CHI</text>
<text transform="translate(251.62,46.50) scale(0.9759,1.0900)" font-size="25.5">rGO-PAni/Frt/GOx</text>
<text transform="translate(152.50,79.70) scale(0.9250,1.0900)" font-size="25.5">b.</text>
<text transform="translate(178.48,79.70) scale(1.0170,1.0900)" font-size="25.5">CHI</text>
<text transform="translate(251.62,79.70) scale(0.9750,1.0900)" font-size="25.5">rGO-PAni/Frt/GOx</text>
<text transform="translate(470.86,79.70) scale(0.9450,1.0900)" font-size="25.5">in</text>
<text transform="translate(496.92,79.70) scale(1.0833,1.0900)" font-size="25.5">20</text>
<text transform="translate(531.07,79.70) scale(1.0273,1.0900)" font-size="25.5">mM</text>
<text transform="translate(585.16,79.70) scale(1.0410,1.0900)" font-size="25.5">glucose</text>
<text transform="translate(354.20,691.60) scale(0.9822,1.0500)" font-size="26">Potential/</text>
<text transform="translate(467.00,691.60) scale(1.0000,1.0500)" font-size="26">V</text>
<text transform="translate(493.80,691.60) scale(0.9857,1.0500)" font-size="26">vs.</text>
<text transform="translate(531.20,691.60) scale(1.0042,1.0500)" font-size="26">Ag/AgCl</text>
<text transform="translate(591.00,164.00) scale(1.0714,1.1000)" font-size="27">b</text>
<text transform="translate(656.92,170.00) scale(1.0833,1.1000)" font-size="27">a</text>
<text transform="translate(227.53,47.63) scale(0.9739,1.1348)" font-size="28" style="font-weight:normal">@</text>
<text transform="translate(227.53,80.73) scale(0.9739,1.1348)" font-size="28" style="font-weight:normal">@</text>
<text transform="translate(35.00,427.30) rotate(-90) scale(0.9958,0.9400)" font-size="27.7">Current</text>
<text transform="translate(35.00,320.98) rotate(-90) scale(0.9791,0.9400)" font-size="27.7">density/</text>
<text transform="translate(35.00,220.60) rotate(-90) scale(0.9564,0.9400)" font-size="27.7">Acm</text>
<text transform="translate(20.00,166.27) rotate(-90) scale(0.9667,0.9400)" font-size="27.7">-2</text>

</g>
</svg>
</body></html>
